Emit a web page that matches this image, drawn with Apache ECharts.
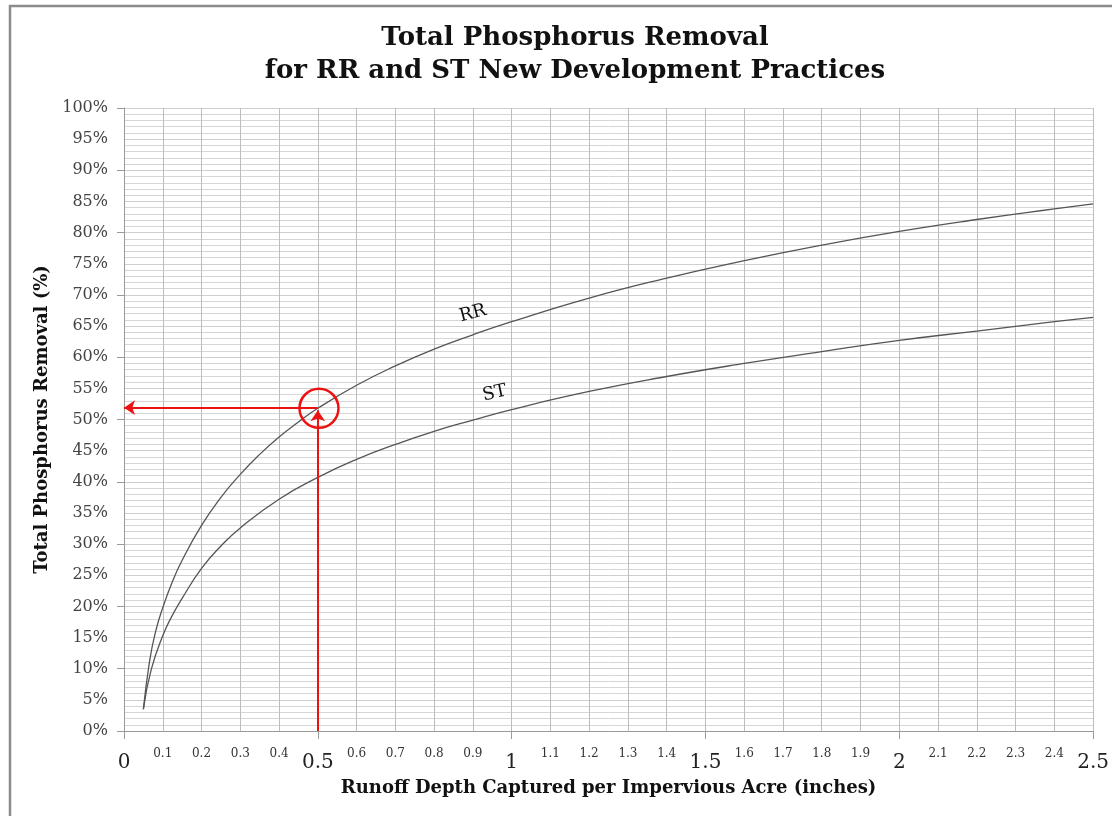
<!DOCTYPE html>
<html>
<head>
<meta charset="utf-8">
<title>Total Phosphorus Removal</title>
<script src="https://cdn.jsdelivr.net/npm/echarts@6/dist/echarts.min.js"></script>
<style>
  html, body { margin: 0; padding: 0; background: #fff; }
  #chart { width: 1112px; height: 816px; }
</style>
</head>
<body>
<div id="chart"></div>
<script>
  // runoff depth (inches) and removal (%)
  var rrDepth   = [0.05, 0.065, 0.08, 0.1, 0.125, 0.15, 0.2, 0.25, 0.3, 0.35, 0.4, 0.45, 0.5, 0.6, 0.7, 0.8, 0.9, 1.0, 1.2, 1.4, 1.6, 1.8, 2.0, 2.2, 2.4, 2.5]
  var rrRemoval = [3.5, 10.8, 15.6, 19.8, 24, 27.4, 33, 37.5, 41.2, 44.4, 47.2, 49.6, 51.8, 55.5, 58.6, 61.3, 63.6, 65.7, 69.5, 72.7, 75.5, 78, 80.2, 82.1, 83.8, 84.6]
  var stDepth   = [0.05, 0.07, 0.1, 0.125, 0.15, 0.2, 0.25, 0.3, 0.4, 0.5, 0.6, 0.7, 0.8, 0.9, 1.0, 1.2, 1.4, 1.6, 1.8, 2.0, 2.2, 2.4, 2.5]
  var stRemoval = [3.5, 9.8, 15.3, 18.6, 21.3, 26.1, 29.7, 32.6, 37.2, 40.7, 43.6, 46, 48.1, 49.9, 51.6, 54.5, 56.9, 59, 60.9, 62.7, 64.2, 65.7, 66.4]

  // the worked example: 0.5 inch on RR -> about 52 %
  var readDepth = 0.5
  var readRemoval = 51.9

  var serif = 'DejaVu Serif'

  function pairs(xs, ys) {
    var out = []
    for (var i = 0; i < xs.length; i++) out.push([xs[i], ys[i]])
    return out
  }

  var myChart = echarts.init(document.getElementById('chart'))

  var option = {
    backgroundColor: '#fff',
    animation: false,
    title: {
      text: 'Total Phosphorus Removal\nfor RR and ST New Development Practices',
      left: 570,
      top: 17,
      textAlign: 'center',
      textStyle: {
        fontFamily: serif,
        fontWeight: 'bold',
        fontSize: 26,
        lineHeight: 33,
        color: '#111'
      }
    },
    graphic: [{
      type: 'rect',
      shape: { x: 10, y: 6, width: 1200, height: 900 },
      style: { fill: 'none', stroke: '#8c8c8c', lineWidth: 2.5 },
      silent: true
    }],
    grid: { left: 124, right: 18, top: 108, bottom: 85 },
    xAxis: [
      {
        // minor labels every 0.1
        type: 'value', position: 'bottom',
        min: 0, max: 2.5, interval: 0.1,
        axisLine: { lineStyle: { color: '#9a9a9a' } },
        axisTick: { show: false },
        axisLabel: {
          margin: 17,
          fontFamily: serif, fontSize: 12, color: '#333',
          formatter: function (v) {
            var t = Math.round(v * 10)
            if (t % 5 === 0) return ''
            return (t / 10).toFixed(1)
          }
        },
        splitLine: { show: true, lineStyle: { color: '#bdbdbd', width: 1 } }
      },
      {
        // major labels every 0.5
        type: 'value', position: 'bottom',
        min: 0, max: 2.5, interval: 0.5,
        name: 'Runoff Depth Captured per Impervious Acre (inches)',
        nameLocation: 'middle',
        nameGap: 48,
        nameTextStyle: { fontFamily: serif, fontWeight: 'bold', fontSize: 18, color: '#111' },
        axisLine: { show: false },
        axisTick: { show: true, length: 8, lineStyle: { color: '#9a9a9a' } },
        axisLabel: {
          margin: 22,
          fontFamily: serif, fontSize: 20, color: '#222',
          formatter: function (v) { return String(Math.round(v * 10) / 10) }
        },
        splitLine: { show: false }
      }
    ],
    yAxis: [
      {
        type: 'value', position: 'left',
        min: 0, max: 100, interval: 5,
        name: 'Total Phosphorus Removal (%)',
        nameLocation: 'middle',
        nameGap: 72,
        nameRotate: 90,
        nameTextStyle: { fontFamily: serif, fontWeight: 'bold', fontSize: 18, color: '#111' },
        axisLine: { show: true, lineStyle: { color: '#9a9a9a' } },
        axisTick: { show: false },
        axisLabel: {
          margin: 16,
          fontFamily: serif, fontSize: 16, color: '#444',
          formatter: '{value}%'
        },
        splitLine: { show: true, lineStyle: { color: '#cfcfcf', width: 1 } },
        minorTick: { show: false, splitNumber: 5 },
        minorSplitLine: { show: true, lineStyle: { color: '#d6d6d6', width: 1 } }
      },
      {
        // ticks every 10 %
        type: 'value', position: 'left',
        min: 0, max: 100, interval: 10,
        axisLine: { show: false },
        axisTick: { show: true, length: 7, lineStyle: { color: '#9a9a9a' } },
        axisLabel: { show: false },
        splitLine: { show: false }
      }
    ],
    series: [
      {
        name: 'RR',
        type: 'line',
        xAxisIndex: 0, yAxisIndex: 0,
        data: pairs(rrDepth, rrRemoval),
        smooth: 0.5,
        showSymbol: false,
        lineStyle: { color: '#555', width: 1.3 },
        z: 3,
        markLine: {
          silent: true,
          symbol: ['none', 'arrow'],
          symbolSize: 11,
          label: { show: false },
          lineStyle: { color: '#ee1111', width: 2, type: 'solid' },
          data: [
            [{ coord: [readDepth, readRemoval] }, { coord: [0, readRemoval] }],
            [{ coord: [readDepth, 0] }, { coord: [readDepth, readRemoval - 0.4] }]
          ]
        },
        markPoint: {
          silent: true,
          data: [
            {
              coord: [readDepth + 0.003, readRemoval - 0.1],
              symbol: 'circle', symbolSize: 39,
              itemStyle: { color: 'rgba(0,0,0,0)', borderColor: '#ee1111', borderWidth: 2.5 },
              label: { show: false }
            },
            {
              coord: [0.9, 67],
              symbol: 'circle', symbolSize: 0,
              label: {
                show: true, position: 'inside', formatter: 'RR', rotate: 15,
                fontFamily: serif, fontSize: 18, color: '#111'
              }
            }
          ]
        }
      },
      {
        name: 'ST',
        type: 'line',
        xAxisIndex: 0, yAxisIndex: 0,
        data: pairs(stDepth, stRemoval),
        smooth: 0.5,
        showSymbol: false,
        lineStyle: { color: '#555', width: 1.3 },
        z: 3,
        markPoint: {
          silent: true,
          data: [
            {
              coord: [0.956, 54.2],
              symbol: 'circle', symbolSize: 0,
              label: {
                show: true, position: 'inside', formatter: 'ST', rotate: 12,
                fontFamily: serif, fontSize: 18, color: '#111'
              }
            }
          ]
        }
      }
    ]
  }

  myChart.setOption(option, true)
</script>
</body>
</html>
